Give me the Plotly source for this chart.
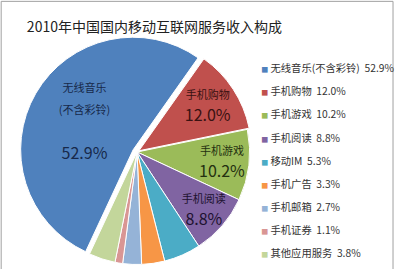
import plotly.graph_objects as go

names = ["无线音乐(不含彩铃)", "手机购物", "手机游戏", "手机阅读", "移动IM",
         "手机广告", "手机邮箱", "手机证券", "其他应用服务"]
values = [52.9, 12.0, 10.2, 8.8, 5.3, 3.3, 2.7, 1.1, 3.8]
inner_names = ["无线音乐<br>(不含彩铃)<br>", "手机购物", "手机游戏", "手机阅读", "", "", "", "", ""]
colors = ["#4F81BD", "#C0504D", "#9BBB59", "#8064A2", "#4BACC6",
          "#F79646", "#95B3D7", "#D99694", "#C3D69B"]
text_colors = ["#17294A", "#3A1212", "#243010", "#1E1230", "#000000",
               "#000000", "#000000", "#000000", "#000000"]

FONT = "Noto Sans CJK SC, Microsoft YaHei, sans-serif"

texts = []
positions = []
for n, v in zip(inner_names, values):
    if n:
        texts.append(f'<span style="font-size:11px">{n}</span><br>'
                     f'<span style="font-size:16px">{v:.1f}%</span>')
        positions.append("inside")
    else:
        texts.append("")
        positions.append("none")

fig = go.Figure(go.Pie(
    labels=names,
    values=values,
    text=texts,
    texttemplate="%{text}",
    textposition=positions,
    insidetextorientation="horizontal",
    textfont=dict(family=FONT, size=17, color=text_colors),
    marker=dict(colors=colors, line=dict(color="#FFFFFF", width=1)),
    sort=False,
    direction="clockwise",
    rotation=205,
    pull=[0.04, 0.02, 0, 0, 0, 0, 0, 0, 0],
    domain=dict(x=[0.047, 0.647], y=[0.0, 0.87]),
    hoverinfo="label+percent",
    showlegend=False,
))

# legend entries with small square swatches
for n, v, c in zip(names, values, colors):
    fig.add_trace(go.Scatter(
        x=[None], y=[None], mode="markers",
        marker=dict(size=1, color="rgba(0,0,0,0)",
                    line=dict(width=0, color="rgba(0,0,0,0)")),
        name=(f'<span style="font-size:7px;color:{c}">■</span>'
              f'<span style="font-size:10.3px">&nbsp;{n}&nbsp;&nbsp;{v:.1f}%</span>'),
        showlegend=True, hoverinfo="skip",
    ))

fig.update_layout(
    width=395, height=269,
    margin=dict(l=0, r=0, t=0, b=0, autoexpand=False),
    paper_bgcolor="#FFFFFF",
    plot_bgcolor="rgba(0,0,0,0)",
    xaxis=dict(visible=False),
    yaxis=dict(visible=False),
    font=dict(family=FONT, color="#333333"),
    uniformtext=dict(mode="show", minsize=17),
    title=dict(text="2010年中国国内移动互联网服务收入构成",
               font=dict(family=FONT, size=14, color="#222222"),
               x=0.068, xanchor="left", y=0.9, yanchor="middle"),
    showlegend=True,
    legend=dict(x=0.56, xanchor="left", y=0.816, yanchor="top",
                font=dict(family=FONT, size=15.5, color="#333333"),
                bgcolor="rgba(0,0,0,0)", traceorder="normal",
                itemclick=False),
    shapes=[dict(type="rect", xref="paper", yref="paper",
                 x0=0.003, x1=0.995, y0=-0.02, y1=0.995,
                 line=dict(color="#A0A0A0", width=1), fillcolor="rgba(0,0,0,0)")],
)

fig.write_html("out.html")
